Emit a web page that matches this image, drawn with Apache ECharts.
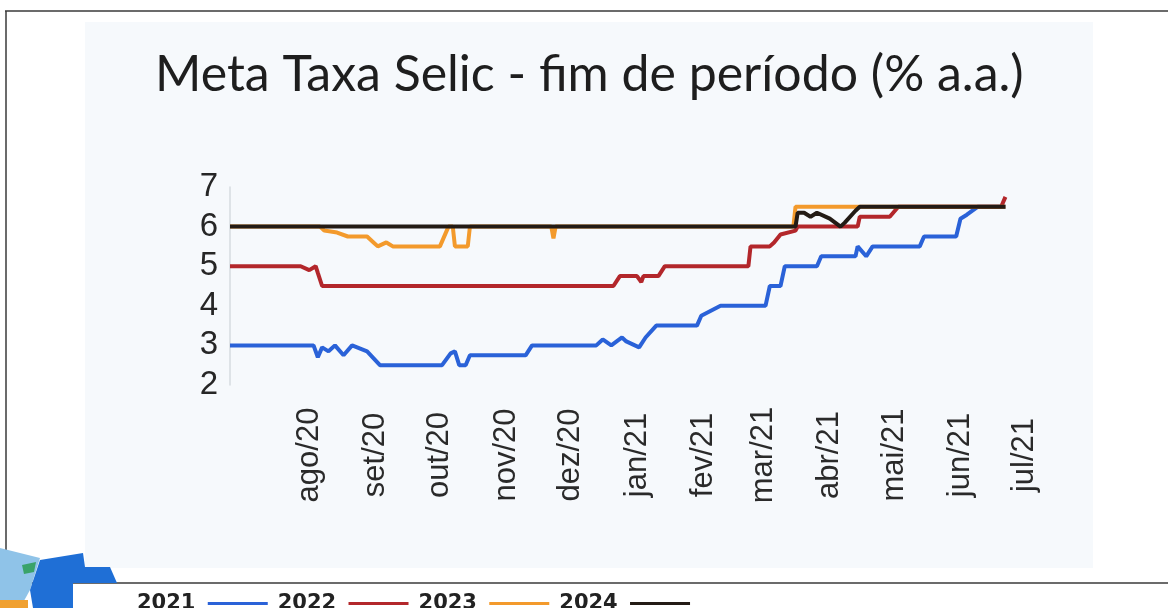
<!DOCTYPE html>
<html>
<head>
<meta charset="utf-8">
<title>Meta Taxa Selic</title>
<script src="https://cdn.jsdelivr.net/npm/echarts@6/dist/echarts.min.js"></script>
<style>
  html, body { margin: 0; padding: 0; background: #fff; }
  #main { width: 1168px; height: 608px; }
</style>
</head>
<body>
<div id="main"></div>
<script>
// eixo x: marcas mensais
const monthTicks = ['2020-08-01', '2020-09-01', '2020-10-01', '2020-11-01', '2020-12-01', '2021-01-01',
  '2021-02-01', '2021-03-01', '2021-04-01', '2021-05-01', '2021-06-01', '2021-07-01']
const monthLabels = ['ago/20', 'set/20', 'out/20', 'nov/20', 'dez/20', 'jan/21',
  'fev/21', 'mar/21', 'abr/21', 'mai/21', 'jun/21', 'jul/21']

// expectativa Focus (mediana) da meta Selic no fim de cada ano, % a.a.
const selic2021 = [
  ['2020-06-25', 3.0], ['2020-08-03', 3.0], ['2020-08-05', 2.7], ['2020-08-07', 2.95], ['2020-08-10', 2.85],
  ['2020-08-13', 3.0], ['2020-08-17', 2.75], ['2020-08-21', 3.0], ['2020-08-28', 2.85], ['2020-09-03', 2.5],
  ['2020-10-02', 2.5], ['2020-10-06', 2.8], ['2020-10-08', 2.85], ['2020-10-10', 2.5], ['2020-10-13', 2.5],
  ['2020-10-15', 2.75], ['2020-11-10', 2.75], ['2020-11-13', 3.0], ['2020-12-13', 3.0], ['2020-12-16', 3.15],
  ['2020-12-20', 3.0], ['2020-12-25', 3.2], ['2020-12-27', 3.1], ['2021-01-02', 2.95], ['2021-01-05', 3.2],
  ['2021-01-10', 3.5], ['2021-01-29', 3.5], ['2021-01-31', 3.75], ['2021-02-09', 4.0], ['2021-03-02', 4.0],
  ['2021-03-04', 4.5], ['2021-03-09', 4.5], ['2021-03-11', 5.0], ['2021-03-26', 5.0], ['2021-03-28', 5.25],
  ['2021-04-13', 5.25], ['2021-04-14', 5.5], ['2021-04-18', 5.25], ['2021-04-21', 5.5], ['2021-05-13', 5.5],
  ['2021-05-15', 5.75], ['2021-05-30', 5.75], ['2021-06-01', 6.2], ['2021-06-04', 6.3], ['2021-06-09', 6.5],
  ['2021-06-22', 6.5]
]
const selic2022 = [
  ['2020-06-25', 5.0], ['2020-07-28', 5.0], ['2020-08-01', 4.9], ['2020-08-04', 5.0], ['2020-08-05', 4.83],
  ['2020-08-07', 4.5], ['2020-12-21', 4.5], ['2020-12-24', 4.75], ['2021-01-01', 4.75], ['2021-01-03', 4.6],
  ['2021-01-04', 4.75], ['2021-01-11', 4.75], ['2021-01-14', 5.0], ['2021-02-22', 5.0], ['2021-02-23', 5.5],
  ['2021-03-04', 5.5], ['2021-03-06', 5.6], ['2021-03-09', 5.8], ['2021-03-16', 5.9], ['2021-03-17', 6.0],
  ['2021-04-14', 6.0], ['2021-04-15', 6.25], ['2021-04-29', 6.25], ['2021-05-03', 6.5], ['2021-06-20', 6.5],
  ['2021-06-22', 6.75]
]
const selic2023 = [
  ['2020-06-25', 6.0], ['2020-08-06', 6.0], ['2020-08-08', 5.9], ['2020-08-14', 5.85], ['2020-08-19', 5.75],
  ['2020-08-28', 5.75], ['2020-08-31', 5.6], ['2020-09-02', 5.5], ['2020-09-06', 5.6], ['2020-09-09', 5.5],
  ['2020-10-01', 5.5], ['2020-10-05', 6.0], ['2020-10-07', 6.0], ['2020-10-08', 5.5], ['2020-10-14', 5.5],
  ['2020-10-15', 6.0], ['2020-11-22', 6.0], ['2020-11-23', 5.7], ['2020-11-24', 6.0], ['2021-03-15', 6.0],
  ['2021-03-16', 6.5], ['2021-06-22', 6.5]
]
const selic2024 = [
  ['2020-06-25', 6.0], ['2021-03-16', 6.0], ['2021-03-17', 6.35], ['2021-03-20', 6.35], ['2021-03-23', 6.25],
  ['2021-03-26', 6.35], ['2021-04-01', 6.2], ['2021-04-06', 6.0], ['2021-04-08', 6.1], ['2021-04-13', 6.4],
  ['2021-04-15', 6.5], ['2021-06-22', 6.5]
]

const seriesNames = ['2021', '2022', '2023', '2024']
const seriesColors = ['#2a62d8', '#b3272b', '#f39a2c', '#231b15']
const seriesData = [selic2021, selic2022, selic2023, selic2024]

function toTime (s) { return +echarts.number.parseDate(s) }
const tickNums = monthTicks.map(toTime)

const chart = echarts.init(document.getElementById('main'), null, { renderer: 'canvas' })

const option = {
  backgroundColor: '#ffffff',
  animation: false,
  color: seriesColors,
  title: {
    text: 'Meta Taxa Selic - fim de período (% a.a.)',
    left: 150,
    top: 45,
    textStyle: {
      fontFamily: 'Lato',
      fontSize: 50,
      fontWeight: 'normal',
      color: '#1e1e1e'
    }
  },
  legend: {
    data: seriesNames,
    left: 132,
    top: 588,
    align: 'right',
    icon: 'rect',
    itemWidth: 60,
    itemHeight: 3,
    itemGap: 10,
    formatter: function (name) { return name + ' ' },
    textStyle: {
      fontFamily: 'DejaVu Sans',
      fontWeight: 'bold',
      fontSize: 21,
      color: '#222'
    }
  },
  grid: {
    left: 230,
    right: 139,
    top: 187,
    bottom: 223,
    containLabel: false
  },
  xAxis: {
    type: 'value',
    min: toTime('2020-06-25'),
    max: toTime('2021-07-03'),
    axisLine: { show: false },
    axisTick: { show: false },
    splitLine: { show: false },
    axisLabel: {
      customValues: tickNums,
      rotate: 90,
      align: 'center',
      verticalAlign: 'middle',
      margin: 70,
      fontFamily: 'Liberation Sans',
      fontSize: 31,
      color: '#2a2a2a',
      formatter: function (value) {
        const i = tickNums.indexOf(+value)
        return i >= 0 ? monthLabels[i] : ''
      }
    }
  },
  yAxis: {
    type: 'value',
    min: 2,
    max: 7,
    interval: 1,
    axisLine: { show: true, lineStyle: { color: '#d6dbe0', width: 1.5 } },
    axisTick: { show: false },
    splitLine: { show: false },
    axisLabel: {
      margin: 12,
      fontFamily: 'Liberation Sans',
      fontSize: 33,
      color: '#262626'
    }
  },
  series: seriesNames.map(function (name, i) {
    return {
      name: name,
      type: 'line',
      data: seriesData[i].map(function (p) { return [toTime(p[0]), p[1]] }),
      showSymbol: false,
      z: 2 + i,
      lineStyle: { width: 4, color: seriesColors[i] },
      itemStyle: { color: seriesColors[i] }
    }
  }),
  graphic: [
    // painel claro do slide
    { type: 'rect', z: -10, shape: { x: 85, y: 22, width: 1008, height: 546 }, style: { fill: '#f6f9fc' } },
    // linhas do quadro
    { type: 'line', shape: { x1: 5, y1: 11, x2: 1168, y2: 11 }, style: { stroke: '#3a3a3a', lineWidth: 1.5 } },
    { type: 'line', shape: { x1: 6, y1: 11, x2: 6, y2: 584 }, style: { stroke: '#3a3a3a', lineWidth: 1.5 } },
    { type: 'line', shape: { x1: 0, y1: 583, x2: 1168, y2: 583 }, style: { stroke: '#3a3a3a', lineWidth: 1.5 } },
    // logotipo no canto
    { type: 'polygon', z: 5, shape: { points: [[0, 548], [40, 558], [30, 590], [20, 608], [0, 608]] }, style: { fill: '#8fc3e8' } },
    { type: 'polygon', z: 6, shape: { points: [[40, 560], [83, 553], [85, 567], [110, 567], [117, 583], [73, 583], [73, 608], [33, 608], [30, 590]] }, style: { fill: '#1f6fd6' } },
    { type: 'rect', z: 7, shape: { x: 0, y: 600, width: 28, height: 8 }, style: { fill: '#f0a030' } },
    { type: 'polygon', z: 7, shape: { points: [[22, 565], [36, 562], [34, 572], [24, 574]] }, style: { fill: '#3aa36a' } }
  ]
}

chart.setOption(option)
</script>
</body>
</html>
